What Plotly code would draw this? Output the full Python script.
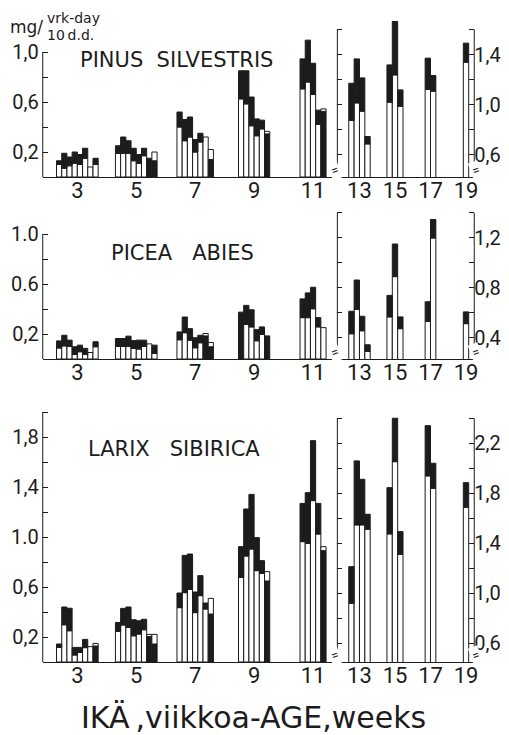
import plotly.graph_objects as go

# ---------------- data ----------------
WEEKS = [3, 5, 7, 9, 11, 13, 15, 17, 19]
BARS_PER_WEEK = [8, 8, 7, 6, 5, 4, 3, 2, 1]

# top of each bar and the level where the white and black parts meet
PINUS_TOP = [0.13, 0.19, 0.16, 0.20, 0.18, 0.23, 0.08, 0.15,
             0.25, 0.32, 0.29, 0.23, 0.18, 0.23, 0.15, 0.20,
             0.52, 0.46, 0.48, 0.30, 0.35, 0.32, 0.22,
             0.85, 0.85, 0.64, 0.465, 0.455, 0.365,
             0.945, 1.095, 0.91, 0.535, 0.545,
             1.17, 1.365, 1.213, 0.744,
             1.317, 1.664, 1.117,
             1.371, 1.232,
             1.491]
PINUS_SPLIT = [0.10, 0.07, 0.09, 0.11, 0.10, 0.15, 0.08, 0.10,
               0.19, 0.19, 0.19, 0.13, 0.11, 0.17, 0.15, 0.13,
               0.40, 0.29, 0.32, 0.20, 0.28, 0.32, 0.14,
               0.625, 0.585, 0.41, 0.33, 0.385, 0.345,
               0.705, 0.76, 0.66, 0.42, 0.525,
               0.872, 1.013, 0.947, 0.685,
               1.019, 1.237, 0.987,
               1.12, 1.107,
               1.339]
# 1 = black part at the base of the bar, white part above it
PINUS_BLACK_BASE = [0, 0, 0, 0, 0, 0, 0, 0,
                    0, 0, 0, 0, 0, 0, 1, 1,
                    0, 0, 0, 0, 0, 0, 1,
                    0, 0, 0, 0, 0, 1,
                    0, 0, 0, 0, 1,
                    0, 0, 0, 0,
                    0, 0, 0,
                    0, 0,
                    0]

PICEA_TOP = [0.145, 0.19, 0.151, 0.098, 0.111, 0.085, 0.052, 0.138,
             0.164, 0.164, 0.183, 0.147, 0.151, 0.151, 0.121, 0.111,
             0.217, 0.336, 0.243, 0.17, 0.19, 0.204, 0.132,
             0.375, 0.429, 0.394, 0.235, 0.257, 0.185,
             0.481, 0.529, 0.574, 0.331, 0.251,
             0.612, 0.862, 0.572, 0.344,
             0.739, 1.15, 0.567,
             0.688, 1.346,
             0.607]
PICEA_SPLIT = [0.088, 0.105, 0.10, 0.036, 0.058, 0.036, 0.052, 0.098,
               0.10, 0.10, 0.10, 0.085, 0.08, 0.10, 0.121, 0.045,
               0.154, 0.21, 0.151, 0.09, 0.13, 0.185, 0.098,
               0.375, 0.276, 0.257, 0.146, 0.196, 0.185,
               0.331, 0.331, 0.402, 0.257, 0.251,
               0.432, 0.626, 0.456, 0.29,
               0.567, 0.889, 0.473,
               0.532, 1.198,
               0.513]
PICEA_BLACK_BASE = [0, 0, 0, 0, 0, 0, 0, 0,
                    0, 0, 0, 0, 0, 0, 0, 0,
                    0, 0, 0, 0, 0, 1, 1,
                    1, 0, 0, 0, 0, 1,
                    0, 0, 0, 0, 0,
                    0, 0, 0, 0,
                    0, 0, 0,
                    0, 0,
                    0]

LARIX_TOP = [0.144, 0.44, 0.43, 0.117, 0.117, 0.181, 0.123, 0.149,
             0.316, 0.429, 0.44, 0.338, 0.33, 0.342, 0.221, 0.221,
             0.552, 0.853, 0.864, 0.56, 0.691, 0.472, 0.509,
             0.923, 1.224, 1.341, 0.995, 0.811, 0.723,
             1.269, 1.355, 1.771, 1.269, 0.923,
             1.213, 2.059, 1.912, 1.632,
             1.845, 2.40, 1.493,
             2.341, 2.04,
             1.885]
LARIX_SPLIT = [0.117, 0.298, 0.25, 0.056, 0.077, 0.115, 0.123, 0.128,
               0.245, 0.296, 0.276, 0.21, 0.224, 0.258, 0.203, 0.144,
               0.435, 0.555, 0.581, 0.395, 0.531, 0.424, 0.384,
               0.677, 0.848, 0.904, 0.731, 0.709, 0.648,
               0.963, 0.949, 1.291, 1.024, 0.891,
               0.92, 1.547, 1.547, 1.512,
               1.475, 2.053, 1.312,
               1.939, 1.84,
               1.688]
LARIX_BLACK_BASE = [0, 0, 0, 0, 0, 0, 0, 1,
                    0, 0, 0, 0, 0, 0, 1, 1,
                    0, 0, 0, 0, 0, 0, 1,
                    0, 0, 0, 0, 0, 1,
                    0, 0, 0, 0, 1,
                    0, 0, 0, 0,
                    0, 0, 0,
                    0, 0,
                    0]

# tick values / labels
PINUS_LEFT_TICKVALS = [0.2, 0.4, 0.6, 0.8, 1.0]
PINUS_LEFT_TICKTEXT = ["0,2", "", "0,6", "", "1,0"]
PINUS_RIGHT_TICKVALS = [0.6, 0.8, 1.0, 1.2, 1.4, 1.6]
PINUS_RIGHT_TICKTEXT = ["0,6", "", "1,0", "", "1,4", ""]
PICEA_LEFT_TICKVALS = [0.2, 0.4, 0.6, 0.8, 1.0]
PICEA_LEFT_TICKTEXT = ["0,2", "", "0.6", "", "1.0"]
PICEA_RIGHT_TICKVALS = [0.4, 0.6, 0.8, 1.0, 1.2, 1.4]
PICEA_RIGHT_TICKTEXT = ["0,4", "", "0,8", "", "1,2", ""]
LARIX_LEFT_TICKVALS = [0.2, 0.4, 0.6, 0.8, 1.0, 1.2, 1.4, 1.6, 1.8, 2.0]
LARIX_LEFT_TICKTEXT = ["0,2", "", "0,6", "", "1.0", "", "1,4", "", "1,8", ""]
LARIX_RIGHT_TICKVALS = [0.6, 0.8, 1.0, 1.2, 1.4, 1.6, 1.8, 2.0, 2.2, 2.4]
LARIX_RIGHT_TICKTEXT = ["0,6", "", "1,0", "", "1,4", "", "1,8", "", "2,2", ""]

SPECIES = ["PINUS\u00a0 SILVESTRIS", "PICEA\u00a0\u00a0 ABIES", "LARIX\u00a0\u00a0 SIBIRICA"]
Y_UNIT = ["mg/", "vrk-day", "10\u2009d.d."]
X_TITLE = "IKÄ\u2009,viikkoa-AGE,weeks"

# ---------------- geometry (screen pixels) ----------------
OX, OY = 8, 8                 # page margin around the figure
FIG_W, FIG_H = 509 - OX, 735 - OY
FONT = "Roboto, 'Liberation Sans', sans-serif"
WIDE = "'DejaVu Sans', Roboto, sans-serif"
INK = "#1c1c1c"
PX_PER_UNIT = 125.0
L_X0, SPLIT_X, R_X1 = 43, 340, 478
L_PX_WEEK, L_REF_WEEK, L_REF_PX = 29.7, 7, 196.7
R_PX_WEEK, R_REF_WEEK, R_REF_PX = 17.9, 16, 416
L_BAR_W = 5.25 / L_PX_WEEK
R_BAR_W = 5.4 / R_PX_WEEK

panels = [
    dict(name=SPECIES[0], top=PINUS_TOP, split=PINUS_SPLIT, inv=PINUS_BLACK_BASE,
         base_px=177, top_px=12, off=0.42, ltop=1.0, rtop=1.6,
         lt=(PINUS_LEFT_TICKVALS, PINUS_LEFT_TICKTEXT),
         rt=(PINUS_RIGHT_TICKVALS, PINUS_RIGHT_TICKTEXT), title=(178, 60)),
    dict(name=SPECIES[1], top=PICEA_TOP, split=PICEA_SPLIT, inv=PICEA_BLACK_BASE,
         base_px=359, top_px=200, off=0.23, ltop=1.0, rtop=1.4,
         lt=(PICEA_LEFT_TICKVALS, PICEA_LEFT_TICKTEXT),
         rt=(PICEA_RIGHT_TICKVALS, PICEA_RIGHT_TICKTEXT), title=(184, 253)),
    dict(name=SPECIES[2], top=LARIX_TOP, split=LARIX_SPLIT, inv=LARIX_BLACK_BASE,
         base_px=662, top_px=400, off=0.45, ltop=2.0, rtop=2.4,
         lt=(LARIX_LEFT_TICKVALS, LARIX_LEFT_TICKTEXT),
         rt=(LARIX_RIGHT_TICKVALS, LARIX_RIGHT_TICKTEXT), title=(175, 449)),
]

fig = go.Figure()
shapes, annotations = [], []


def px(x):
    return (x - OX) / FIG_W


def py(y):
    return 1 - (y - OY) / FIG_H


def ax_name(kind, i):
    return kind if i == 1 else f"{kind}{i}"


for p, P in enumerate(panels):
    li, ri = 2 * p + 1, 2 * p + 2
    xl, xr = ax_name("x", li), ax_name("x", ri)
    yl, yr = ax_name("y", li), ax_name("y", ri)
    span = (P["base_px"] - P["top_px"]) / PX_PER_UNIT
    dom_y = [py(P["base_px"]), py(P["top_px"])]

    sides = {"L": dict(x=[], lo=[], hi=[], base=[], c1=[], c2=[]),
             "R": dict(x=[], lo=[], hi=[], base=[], c1=[], c2=[])}
    k = 0
    for wk, n in zip(WEEKS, BARS_PER_WEEK):
        s = "L" if wk <= 11 else "R"
        bw = L_BAR_W if s == "L" else R_BAR_W
        for i in range(n):
            t, sp, inv = P["top"][k], P["split"][k], P["inv"][k]
            d = sides[s]
            d["x"].append(wk + (i - (n - 1) / 2) * bw)
            d["lo"].append(sp)
            d["hi"].append(t - sp if t - sp > 1e-6 else None)
            d["base"].append(sp)
            d["c1"].append(INK if inv else "white")
            d["c2"].append("white" if inv else INK)
            k += 1

    for s, xa, ya, bw in (("L", xl, yl, L_BAR_W), ("R", xr, yr, R_BAR_W)):
        d = sides[s]
        fig.add_trace(go.Bar(x=d["x"], y=d["lo"], base=0, width=bw, xaxis=xa, yaxis=ya,
                             marker=dict(color=d["c1"], line=dict(color=INK, width=1)),
                             showlegend=False, hoverinfo="skip"))
        fig.add_trace(go.Bar(x=d["x"], y=d["hi"], base=d["base"], width=bw, xaxis=xa, yaxis=ya,
                             marker=dict(color=d["c2"], line=dict(color=INK, width=1)),
                             showlegend=False, hoverinfo="skip"))

    l_range = [L_REF_WEEK - (L_REF_PX - L_X0) / L_PX_WEEK, L_REF_WEEK + (SPLIT_X - L_REF_PX) / L_PX_WEEK]
    r_range = [R_REF_WEEK - (R_REF_PX - SPLIT_X) / R_PX_WEEK, R_REF_WEEK + (R_X1 - R_REF_PX) / R_PX_WEEK]
    common_x = dict(showline=True, linecolor=INK, linewidth=1, ticks="", showgrid=False,
                    zeroline=False, fixedrange=True, tickfont=dict(size=22, family=FONT, color=INK),
                    ticklabelstandoff=-6)
    fig.layout[ax_name("xaxis", li)] = dict(common_x, domain=[px(L_X0), px(SPLIT_X)], range=l_range,
                                            anchor=yl, tickvals=WEEKS[:5], ticktext=[str(w) for w in WEEKS[:5]])
    fig.layout[ax_name("xaxis", ri)] = dict(common_x, domain=[px(SPLIT_X), px(R_X1)], range=r_range,
                                            anchor=yr, tickvals=WEEKS[5:], ticktext=[str(w) for w in WEEKS[5:]])
    common_y = dict(showline=False, ticks="inside", ticklen=5, tickwidth=1, tickcolor=INK,
                    showgrid=False, zeroline=False, fixedrange=True, domain=dom_y,
                    tickfont=dict(size=20, family=FONT, color=INK))
    fig.layout[ax_name("yaxis", li)] = dict(common_y, range=[0, span], anchor=xl,
                                            tickvals=P["lt"][0], ticktext=P["lt"][1],
                                            ticklabelstandoff=3)
    fig.layout[ax_name("yaxis", ri)] = dict(common_y, range=[P["off"], P["off"] + span], anchor=xr,
                                            side="right", mirror="ticks", ticklabelstandoff=-1,
                                            tickvals=P["rt"][0], ticktext=P["rt"][1])

    shapes.append(dict(type="line", xref=f"{xl} domain", yref=yl, x0=0, x1=0, y0=0, y1=P["ltop"],
                       line=dict(color=INK, width=1)))
    for xd in (0, 1):
        shapes.append(dict(type="line", xref=f"{xr} domain", yref=yr, x0=xd, x1=xd,
                           y0=P["off"], y1=P["rtop"], line=dict(color=INK, width=1)))

    annotations.append(dict(text=P["name"], xref="paper", yref="paper", x=px(P["title"][0]),
                            y=py(P["title"][1]), xanchor="center", yanchor="middle", showarrow=False,
                            font=dict(size=21, family=WIDE, color=INK)))
    for bx in (SPLIT_X - 3, R_X1 + 1):
        annotations.append(dict(text="=", xref="paper", yref="paper", x=px(bx), y=py(P["base_px"] - 7),
                                xanchor="center", yanchor="middle", showarrow=False, textangle=-20,
                                font=dict(size=13, family=FONT, color=INK),
                                bgcolor="white"))

annotations += [
    dict(text=Y_UNIT[0], xref="paper", yref="paper", x=px(OX), y=py(27), xanchor="left",
         yanchor="middle", showarrow=False, font=dict(size=17, family=WIDE, color=INK)),
    dict(text=Y_UNIT[1], xref="paper", yref="paper", x=px(45), y=py(18), xanchor="left",
         yanchor="middle", showarrow=False, font=dict(size=14, family=WIDE, color=INK)),
    dict(text=Y_UNIT[2], xref="paper", yref="paper", x=px(45), y=py(35), xanchor="left",
         yanchor="middle", showarrow=False, font=dict(size=14, family=WIDE, color=INK)),
    dict(text=X_TITLE, xref="paper", yref="paper", x=px(255), y=py(717), xanchor="center",
         yanchor="middle", showarrow=False, font=dict(size=30, family=WIDE, color=INK)),
]

fig.update_layout(width=FIG_W, height=FIG_H, margin=dict(l=0, r=0, t=0, b=0),
                  paper_bgcolor="white", plot_bgcolor="rgba(0,0,0,0)", barmode="overlay",
                  font=dict(family=FONT, color=INK), shapes=shapes, annotations=annotations,
                  showlegend=False)

fig.write_html("out.html")
